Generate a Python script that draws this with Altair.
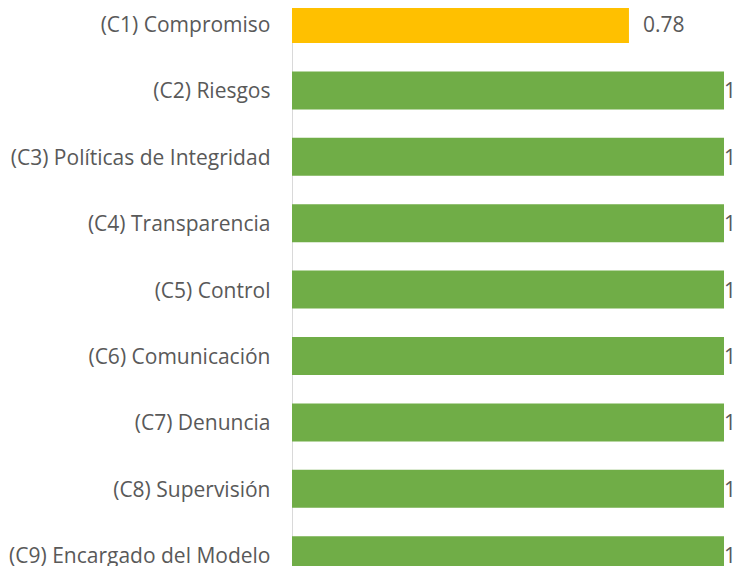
import altair as alt
import pandas as pd

categories = [
    "(C1) Compromiso",
    "(C2) Riesgos",
    "(C3) Políticas de Integridad",
    "(C4) Transparencia",
    "(C5) Control",
    "(C6) Comunicación",
    "(C7) Denuncia",
    "(C8) Supervisión",
    "(C9) Encargado del Modelo",
]
values = [0.78, 1, 1, 1, 1, 1, 1, 1, 1]
labels = ["0.78", "1", "1", "1", "1", "1", "1", "1", "1"]
groups = ["parcial", "total", "total", "total", "total", "total", "total", "total", "total"]

df = pd.DataFrame({"cat": categories, "val": values, "lab": labels, "grp": groups})

FONT = "Open Sans"
FS = 21
TXT = "#595959"

y = alt.Y(
    "cat:N",
    sort=categories,
    scale=alt.Scale(range=[-3, 566.2], paddingInner=0.428, paddingOuter=0),
    axis=alt.Axis(
        title=None, ticks=False, labelPadding=22, labelFontSize=FS,
        labelFont=FONT, labelColor=TXT, domainColor="#d9d9d9", domainWidth=1,
        labelLimit=0, grid=False, labelOffset=2,
    ),
)
x = alt.X("val:Q", scale=alt.Scale(domain=[0, 1]), axis=None)

bars = alt.Chart(df).mark_bar().encode(
    x=x, y=y,
    color=alt.Color("grp:N", scale=alt.Scale(domain=["parcial", "total"], range=["#FFC000", "#70AD47"]), legend=None),
)
t1 = alt.Chart(df).mark_text(align="left", baseline="middle", font=FONT, fontSize=FS, color=TXT, dx=14, dy=2).encode(
    x=x, y=y, text="lab:N").transform_filter("datum.val < 1")
t2 = alt.Chart(df).mark_text(align="left", baseline="middle", font=FONT, fontSize=FS, color=TXT, dx=0, dy=2).encode(
    x=x, y=y, text="lab:N").transform_filter("datum.val >= 1")

chart = alt.layer(bars, t1, t2).properties(
    width=432, height=558,
    autosize=alt.AutoSizeParams(type="none"),
    padding={"left": 284, "top": 0, "right": 12, "bottom": 0},
).configure_view(stroke=None)

chart.save("out.html", embed_options={"renderer": "svg", "actions": False})
